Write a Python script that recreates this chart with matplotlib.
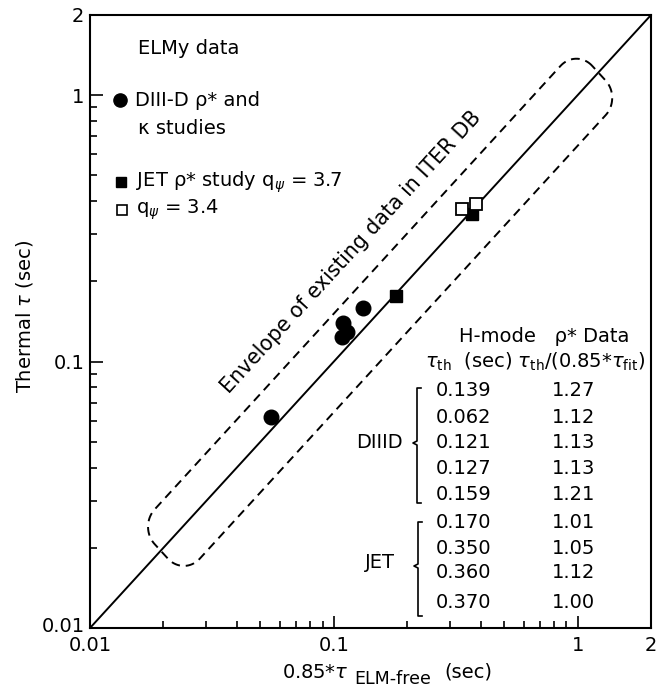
import numpy as np
import matplotlib
matplotlib.use('Agg')
import matplotlib.pyplot as plt
import matplotlib.transforms as mtransforms
from matplotlib.lines import Line2D

# data
diiid_x = [0.109, 0.055, 0.108, 0.113, 0.132]
diiid_y = [0.139, 0.062, 0.124, 0.129, 0.159]
jet37_x = [0.180, 0.369]
jet37_y = [0.176, 0.358]
jet34_x = [0.336, 0.383]
jet34_y = [0.375, 0.390]
fit_x = [0.01, 2.0]
fit_y = [0.01, 2.0]

diiid_tau = ['0.139', '0.062', '0.121', '0.127', '0.159']
diiid_ratio = ['1.27', '1.12', '1.13', '1.13', '1.21']
jet_tau = ['0.170', '0.350', '0.360', '0.370']
jet_ratio = ['1.01', '1.05', '1.12', '1.00']

W, H = 661, 693


def fx(px):
    return px / W


def fy(py):
    return 1 - py / H


def plot():
    plt.rcParams['font.family'] = ['DejaVu Sans']
    fig = plt.figure(figsize=(W / 100, H / 100), dpi=100)
    ax = fig.add_axes([fx(90), fy(628), (651 - 90) / W, (628 - 15) / H])
    ax.set_xscale('log')
    ax.set_yscale('log')
    ax.set_xlim(0.01, 2)
    ax.set_ylim(0.01, 2)

    # fit line and data
    ax.plot(fit_x, fit_y, '-', color='k', lw=1.4)
    ax.plot(diiid_x, diiid_y, 'o', color='k', ms=10.5)
    ax.plot(jet37_x, jet37_y, 's', color='k', ms=8)
    ax.plot(jet34_x, jet34_y, 's', mfc='white', mec='k', mew=1.3, ms=8.5)

    # envelope: rounded rectangle along the diagonal in log space
    s0, s1, d0, d1, r = -3.42, 0.17, -0.19, 0.18, 0.13
    t = np.linspace(0, np.pi / 2, 20)
    pts = []
    for cs, cd, a0 in [(s1 - r, d1 - r, 0), (s0 + r, d1 - r, np.pi / 2),
                       (s0 + r, d0 + r, np.pi), (s1 - r, d0 + r, 1.5 * np.pi)]:
        for tt in t:
            pts.append((cs + r * np.cos(a0 + tt), cd + r * np.sin(a0 + tt)))
    pts.append(pts[0])
    pts = np.array(pts)
    X = (pts[:, 0] - pts[:, 1]) / 2
    Y = (pts[:, 0] + pts[:, 1]) / 2
    ax.plot(10 ** X, 10 ** Y, color='k', lw=1.4, ls=(0, (4.5, 3)))

    fig.text(fx(351), fy(252), 'Envelope of existing data in ITER DB',
             rotation=47.5, ha='center', va='center', fontsize=14.8)

    # axes styling
    for sp in ax.spines.values():
        sp.set_linewidth(1.5)
    ax.set_xticks([0.01, 0.1, 1, 2])
    ax.set_xticklabels(['0.01', '0.1', '1', '2'])
    ax.set_yticks([0.01, 0.1, 1, 2])
    ax.set_yticklabels(['0.01', '0.1', '1', '2'])
    ax.xaxis.set_minor_formatter(plt.NullFormatter())
    ax.yaxis.set_minor_formatter(plt.NullFormatter())
    ax.tick_params(which='both', direction='in', top=False, right=False,
                   labelsize=14, width=1.2)
    ax.tick_params(axis='x', pad=6)
    ax.tick_params(axis='y', pad=4)
    ax.tick_params(which='major', length=9)
    ax.tick_params(which='minor', length=5)
    # lift the lowest y label a little, as in the original
    lab = ax.get_yticklabels()[0]
    lab.set_transform(lab.get_transform() +
                      mtransforms.ScaledTranslation(0, 4 / 100, fig.dpi_scale_trans))

    # axis labels
    fig.text(fx(25), fy(316), r'Thermal $\tau$ (sec)', rotation=90,
             ha='center', va='center', fontsize=14)
    fig.text(fx(348), fy(672), r'0.85*$\tau$', ha='right', va='center', fontsize=14)
    fig.text(fx(354), fy(679), 'ELM-free', ha='left', va='center', fontsize=12.5)
    fig.text(fx(444), fy(672), '(sec)', ha='left', va='center', fontsize=14)

    # legend block
    fig.text(fx(138), fy(48), 'ELMy data', ha='left', va='center', fontsize=14)
    ax.plot([fx(120)], [fy(100)], 'o', color='k', ms=9.5,
            transform=fig.transFigure, clip_on=False)
    fig.text(fx(135), fy(100), 'DIII-D ρ* and', ha='left', va='center', fontsize=14)
    fig.text(fx(138), fy(128), 'κ studies', ha='left', va='center', fontsize=14)
    ax.plot([fx(121)], [fy(182)], 's', color='k', ms=6.5,
            transform=fig.transFigure, clip_on=False)
    fig.text(fx(136), fy(182), r'JET ρ* study q$_{\psi}$ = 3.7', ha='left',
             va='center', fontsize=14)
    ax.plot([fx(122)], [fy(210)], 's', mfc='white', mec='k', mew=1.2, ms=7,
            transform=fig.transFigure, clip_on=False)
    fig.text(fx(136), fy(210), r'q$_{\psi}$ = 3.4', ha='left', va='center', fontsize=14)

    # table
    fig.text(fx(544), fy(337), 'H-mode   ρ* Data', ha='center', va='center', fontsize=14)
    fig.text(fx(535), fy(362), r'$\tau_{\rm th}$  (sec) $\tau_{\rm th}$/(0.85*$\tau_{\rm fit}$)',
             ha='center', va='center', fontsize=14)
    rows_y = [390, 417, 443, 468, 495, 523, 548, 573, 602]
    for i, (tau, ratio) in enumerate(zip(diiid_tau + jet_tau, diiid_ratio + jet_ratio)):
        fig.text(fx(436), fy(rows_y[i]), tau, ha='left', va='center', fontsize=14)
        fig.text(fx(552), fy(rows_y[i]), ratio, ha='left', va='center', fontsize=14)
    fig.text(fx(403), fy(443), 'DIIID', ha='right', va='center', fontsize=14)
    fig.text(fx(395), fy(562), 'JET', ha='right', va='center', fontsize=14)

    # brackets
    for xb, ytop, ybot, ymid in [(417, 388, 503, 443), (418, 522, 616, 566)]:
        bx = [xb + 4, xb, xb, xb - 4, xb, xb, xb + 4]
        by = [ytop, ytop, ymid - 2, ymid, ymid + 2, ybot, ybot]
        fig.add_artist(Line2D([fx(v) for v in bx], [fy(v) for v in by],
                              color='k', lw=1.2, transform=fig.transFigure))

    fig.savefig('out.png', dpi=100)


if __name__ == '__main__':
    plot()
